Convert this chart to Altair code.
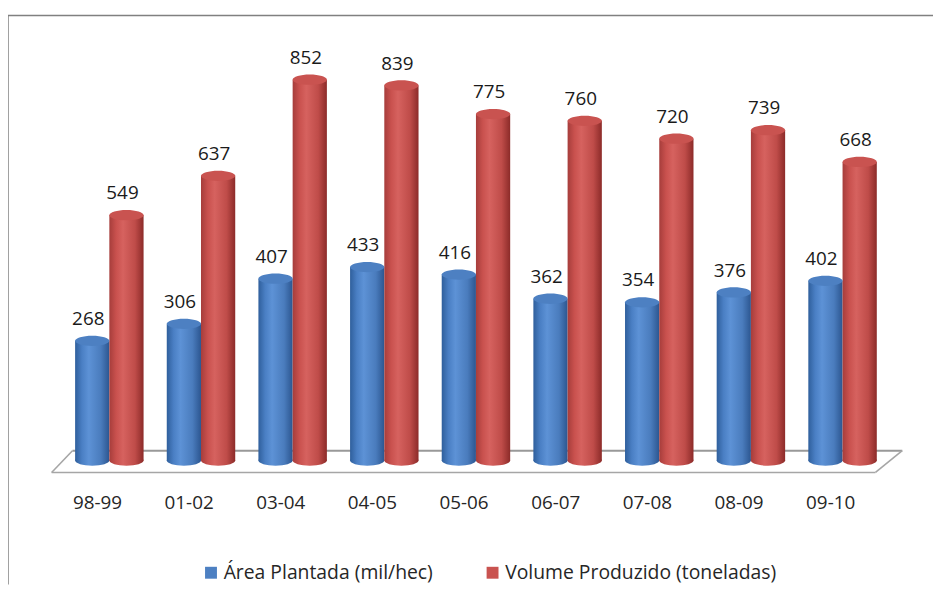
import altair as alt
import pandas as pd

periods = ["98-99", "01-02", "03-04", "04-05", "05-06", "06-07", "07-08", "08-09", "09-10"]
area = [268, 306, 407, 433, 416, 362, 354, 376, 402]
volume = [549, 637, 852, 839, 775, 760, 720, 739, 668]
series = ["Área Plantada (mil/hec)", "Volume Produzido (toneladas)"]
colors = ["#4F81BD", "#C0504D"]

rows = []
for p, a, v in zip(periods, area, volume):
    rows.append({"periodo": p, "serie": series[0], "valor": a})
    rows.append({"periodo": p, "serie": series[1], "valor": v})
df = pd.DataFrame(rows)

W, H = 832, 432
YMAX = 958
FONT = "Open Sans"
ELLIPSE = "M -1 0 A 1 0.3 0 1 1 1 0 A 1 0.3 0 1 1 -1 0 Z"
ESIZE = 1190

x = alt.X("periodo:N", sort=periods,
          scale=alt.Scale(paddingInner=0.253, paddingOuter=0.1265),
          axis=alt.Axis(title=None, labelAngle=0, labelFontSize=19, labelFont=FONT,
                        labelColor="#262626", labelPadding=33, labelOffset=-12,
                        domain=False, ticks=False, grid=False))
xoff = alt.XOffset("serie:N", sort=series,
                   scale=alt.Scale(domain=series, paddingInner=0, paddingOuter=0))
y = alt.Y("valor:Q", scale=alt.Scale(domain=[0, YMAX], nice=False, zero=True), axis=None)

grad_blue = alt.Gradient(gradient="linear", x1=0, x2=1, y1=0, y2=0, stops=[
    alt.GradientStop(color="#2f5f9c", offset=0),
    alt.GradientStop(color="#4a7fc4", offset=0.2),
    alt.GradientStop(color="#5d92d6", offset=0.4),
    alt.GradientStop(color="#4a7cbd", offset=0.75),
    alt.GradientStop(color="#2c5690", offset=1)])
grad_red = alt.Gradient(gradient="linear", x1=0, x2=1, y1=0, y2=0, stops=[
    alt.GradientStop(color="#a63d3b", offset=0),
    alt.GradientStop(color="#c9514e", offset=0.2),
    alt.GradientStop(color="#d6625f", offset=0.4),
    alt.GradientStop(color="#bf4c49", offset=0.75),
    alt.GradientStop(color="#8c2b29", offset=1)])
grads = [grad_blue, grad_red]
cap_fill = ["#4d80c2", "#c95350"]

base = alt.Chart(df)

# decorative frame and floor
deco = pd.DataFrame({"k": [0]})
frame_v = alt.Chart(deco).mark_rule(color="#808080", strokeWidth=1.5).encode(
    x=alt.value(-56), y=alt.value(-17), y2=alt.value(H + 125))
frame_h = alt.Chart(deco).mark_rule(color="#808080", strokeWidth=1.5).encode(
    x=alt.value(-56), x2=alt.value(W + 45), y=alt.value(-17))
floor_style = dict(color="#a6a6a6", strokeWidth=1.6)
floor_front = alt.Chart(deco).mark_rule(**floor_style).encode(
    x=alt.value(-12), x2=alt.value(819), y=alt.value(H + 12))
floor_back = alt.Chart(deco).mark_rule(color="#999999", strokeWidth=2).encode(
    x=alt.value(9), x2=alt.value(846), y=alt.value(H - 10))
floor_left = alt.Chart(deco).mark_rule(**floor_style).encode(
    x=alt.value(-12), y=alt.value(H + 12), x2=alt.value(9), y2=alt.value(H - 10))
floor_right = alt.Chart(deco).mark_rule(**floor_style).encode(
    x=alt.value(819), y=alt.value(H + 12), x2=alt.value(846), y2=alt.value(H - 10))

layers = [frame_v, frame_h, floor_back, floor_front, floor_left, floor_right]

for i, s in enumerate(series):
    sub = base.transform_filter(alt.datum.serie == s)
    bottom = sub.mark_point(shape=ELLIPSE, size=ESIZE, filled=True, opacity=1,
                            fill=grads[i], strokeWidth=0).encode(
        x=x, xOffset=xoff, y=alt.Y(datum=0, scale=alt.Scale(domain=[0, YMAX], nice=False), axis=None))
    bars = sub.mark_bar(fill=grads[i], strokeWidth=0).encode(x=x, xOffset=xoff, y=y)
    layers += [bottom, bars]

caps = base.mark_point(shape=ELLIPSE, size=ESIZE, filled=True, opacity=1,
                       strokeWidth=0).encode(
    x=x, xOffset=xoff, y=y,
    color=alt.Color("serie:N", sort=series,
                    scale=alt.Scale(domain=series, range=cap_fill),
                    legend=alt.Legend(title=None, orient="none", legendX=139, legendY=535,
                                      direction="horizontal", symbolType="square",
                                      symbolSize=144, labelFontSize=19.5, labelFont=FONT,
                                      labelColor="#262626", columnPadding=50, labelLimit=0,
                                      labelOffset=3, symbolStrokeWidth=0, padding=0)))
labels = base.mark_text(baseline="bottom", dy=-12, dx=-4, fontSize=19, font=FONT,
                        color="#1a1a1a").encode(
    x=x, xOffset=xoff, y=y, text=alt.Text("valor:Q"))
layers += [caps, labels]

chart = alt.layer(*layers).properties(
    width=W, height=H,
    autosize=alt.AutoSizeParams(type="none"),
    padding={"left": 56, "top": 22, "right": 45, "bottom": 125},
    background="white",
).configure_view(stroke=None)

chart.save("out.html", embed_options={"renderer": "svg", "actions": False})
